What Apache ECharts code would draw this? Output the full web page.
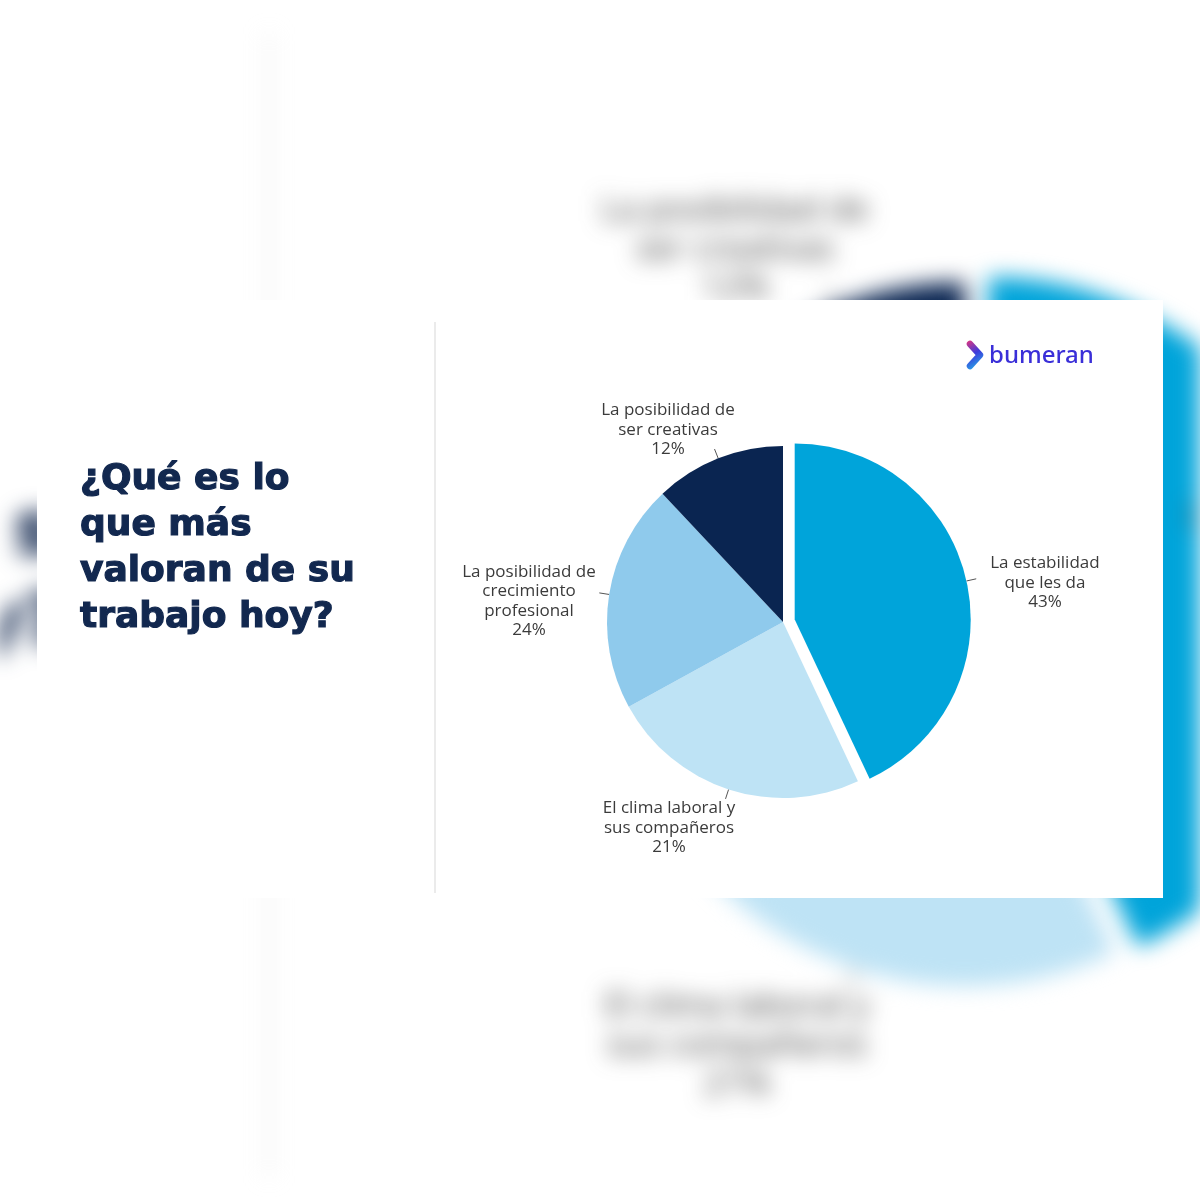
<!DOCTYPE html>
<html><head><meta charset="utf-8">
<script src="https://cdn.jsdelivr.net/npm/echarts@6/dist/echarts.min.js"></script>
<style>
html,body{margin:0;padding:0;background:#fff;}
#bg,#fg{position:absolute;left:0;top:0;width:1200px;height:1200px;}
#bg{filter:blur(11px);}
</style></head>
<body>
<div id="bg"></div>
<div id="fg"></div>
<script>
// Slice categories (clockwise from 12 o'clock) and the shares
const categories = ['La estabilidad\nque les da', 'El clima laboral y\nsus compañeros', 'La posibilidad de\ncrecimiento\nprofesional', 'La posibilidad de\nser creativas'];
const values = [43, 24, 21, 12];
// Percent texts as printed next to each slice in the reference
const printedShares = ['43%', '21%', '24%', '12%'];
const sliceColors = ['#00a4da', '#bee3f5', '#8fcaec', '#0a2551'];
const titleLines = ['¿Qué es lo', 'que más', 'valoran de su', 'trabajo hoy?'];
const logoText = 'bumeran';

// layout (not data): label centres (the exploded slice keeps the library's own label position)
const labelPos = [null, [669, 828], [529, 601], [668, 430]];

function build(s, ox, oy, bg) {
  const X = v => v * s + ox, Y = v => v * s + oy;
  const graphic = [];
  if (!bg) {
    graphic.push({type:'rect', z:-10, shape:{x:37,y:300,width:1126,height:598}, style:{fill:'#ffffff'}});
  }
  graphic.push({type:'line', shape:{x1:X(435),y1:Y(322),x2:X(435),y2:Y(893)}, style:{stroke:'#e4e4e4', lineWidth:1.5*s}});
  graphic.push({type:'text', x:X(80), y:Y(457), style:{text:titleLines.join('\n'), fill:'#12284f', stroke:'#12284f', lineWidth:1.2*s, font:'bold ' + (36*s) + 'px "DejaVu Sans", sans-serif', lineHeight:46*s, textVerticalAlign:'top'}});
  graphic.push({type:'polyline', shape:{points:[[X(970),Y(344)],[X(980),Y(355)],[X(970),Y(366)]]}, style:{lineWidth:6.5*s, lineCap:'round', lineJoin:'round', fill:null,
     stroke:new echarts.graphic.LinearGradient(0,0,1,1,[{offset:0,color:'#e0357e'},{offset:0.45,color:'#3b3bdc'},{offset:1,color:'#22c2e8'}])}});
  graphic.push({type:'text', x:X(989), y:Y(356), style:{text:logoText, fill:'#3a2fd8', font:'500 ' + (24*s) + 'px "Noto Sans", sans-serif', textVerticalAlign:'middle'}});
  const txt = {color:'#3b3b3b', fontFamily:'"Open Sans", sans-serif', fontSize:17*s, lineHeight:19.5*s, align:'center'};
  return {
    animation:false,
    backgroundColor:'transparent',
    graphic: graphic,
    series:[{
      type:'pie',
      center:[X(783), Y(622)],
      radius:176*s,
      startAngle:90,
      clockwise:true,
      selectedMode:'single',
      selectedOffset:12*s,
      silent:true,
      emphasis:{disabled:true},
      data: categories.map((c,i)=>({name:c, value:values[i], selected:i===0, itemStyle:{color:sliceColors[i]},
        label: i===0 ? {padding:[8*s,0,0,0]} : undefined})),
      label:{show:true, position:'outside', overflow:'none', distanceToLabelLine:5*s,
        formatter:p => (p.name + '\n' + printedShares[p.dataIndex]).split('\n').map(t => '{c|' + t + '}').join('\n'),
        rich:{c:txt}, color:txt.color, fontFamily:txt.fontFamily, fontSize:txt.fontSize, lineHeight:txt.lineHeight},
      labelLine:{show:true, length:10*s, length2:9*s, lineStyle:{color:'#555', width:1*s}},
      labelLayout: function(p){
        const pts = p.labelLinePoints;
        const o = {};
        if (pts && pts.length >= 2) o.labelLinePoints = [pts[0], pts[1], pts[1]];
        const q = labelPos[p.dataIndex];
        if (q) {
          const r = p.labelRect;
          o.x = X(q[0]) - r.width / 2; o.y = Y(q[1]); o.align = 'left'; o.verticalAlign = 'middle';
        }
        return o;
      }
    }]
  };
}

const bgChart = echarts.init(document.getElementById('bg'), null, {renderer:'canvas'});
bgChart.setOption(build(2, -601, -610, true));
const fgChart = echarts.init(document.getElementById('fg'), null, {renderer:'canvas'});
fgChart.setOption(build(1, 0, 0, false));
</script>
</body></html>
